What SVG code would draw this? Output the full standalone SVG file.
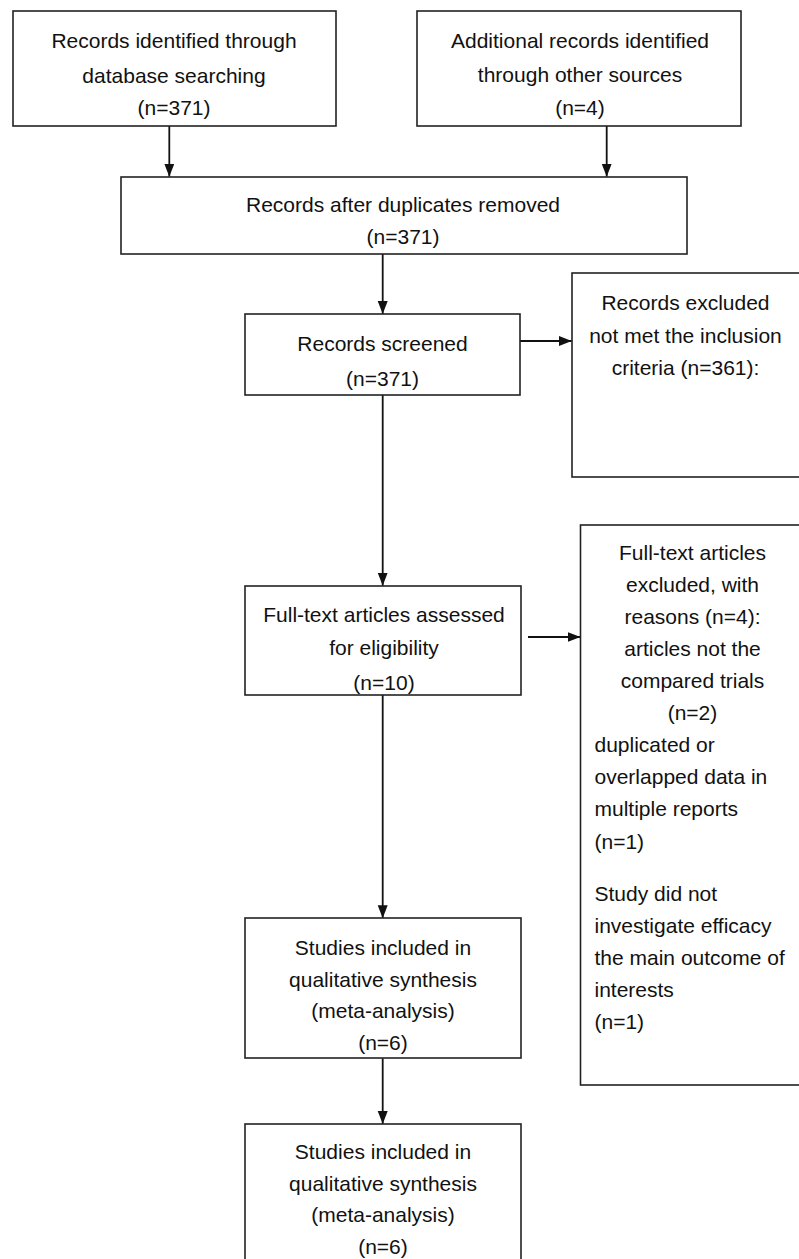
<svg xmlns="http://www.w3.org/2000/svg" width="799" height="1259" viewBox="0 0 799 1259">
<style>
  .box { fill: #ffffff; stroke: #222222; stroke-width: 1.6; }
  .t { font-family: "Liberation Sans", Arial, sans-serif; font-size: 21px; fill: #111111; }
  .c { text-anchor: middle; }
  .l { text-anchor: start; }
  .edge { stroke: #111111; stroke-width: 1.8; fill: none; }
</style>
<defs>
  <marker id="arrow" markerUnits="userSpaceOnUse" markerWidth="14" markerHeight="11" refX="13" refY="5" orient="auto">
    <path d="M0,0 L13,5 L0,10 z" fill="#111111"/>
  </marker>
</defs>
<rect x="0" y="0" width="799" height="1259" fill="#ffffff"/>

<g id="connectors">
  <line class="edge" x1="169.3" y1="126" x2="169.3" y2="176.7" marker-end="url(#arrow)"/>
  <line class="edge" x1="606.7" y1="126" x2="606.7" y2="176.7" marker-end="url(#arrow)"/>
  <line class="edge" x1="382.7" y1="254" x2="382.7" y2="314" marker-end="url(#arrow)"/>
  <line class="edge" x1="520" y1="341" x2="571.7" y2="341" marker-end="url(#arrow)"/>
  <line class="edge" x1="382.7" y1="395" x2="382.7" y2="585.7" marker-end="url(#arrow)"/>
  <line class="edge" x1="528" y1="637" x2="580.5" y2="637" marker-end="url(#arrow)"/>
  <line class="edge" x1="382.7" y1="694.7" x2="382.7" y2="918.3" marker-end="url(#arrow)"/>
  <line class="edge" x1="382.7" y1="1058.3" x2="382.7" y2="1124" marker-end="url(#arrow)"/>
</g>

<g id="identified-database">
  <rect class="box" x="13" y="11" width="323" height="115"/>
  <text class="t c" x="174" y="48">Records identified through</text>
  <text class="t c" x="174" y="82.7">database searching</text>
  <text class="t c" x="174" y="115">(n=371)</text>
</g>

<g id="identified-other">
  <rect class="box" x="417" y="11" width="324" height="115"/>
  <text class="t c" x="580" y="48">Additional records identified</text>
  <text class="t c" x="580" y="82">through other sources</text>
  <text class="t c" x="580" y="115">(n=4)</text>
</g>

<g id="after-duplicates">
  <rect class="box" x="121" y="177" width="566" height="77"/>
  <text class="t c" x="403" y="212">Records after duplicates removed</text>
  <text class="t c" x="403" y="244">(n=371)</text>
</g>

<g id="screened">
  <rect class="box" x="245" y="314" width="275" height="81"/>
  <text class="t c" x="382.5" y="351">Records screened</text>
  <text class="t c" x="382.5" y="386">(n=371)</text>
</g>

<g id="excluded">
  <rect class="box" x="572" y="273" width="240" height="204"/>
  <text class="t c" x="685.5" y="310">Records excluded</text>
  <text class="t c" x="685.5" y="343">not met the inclusion</text>
  <text class="t c" x="685.5" y="375">criteria (n=361):</text>
</g>

<g id="fulltext-assessed">
  <rect class="box" x="245" y="586" width="276" height="109"/>
  <text class="t c" x="384" y="622">Full-text articles assessed</text>
  <text class="t c" x="384" y="655">for eligibility</text>
  <text class="t c" x="384" y="690">(n=10)</text>
</g>

<g id="fulltext-excluded">
  <rect class="box" x="580.5" y="525" width="240" height="560"/>
  <text class="t c" x="692.5" y="560">Full-text articles</text>
  <text class="t c" x="692.5" y="592">excluded, with</text>
  <text class="t c" x="692.5" y="624">reasons (n=4):</text>
  <text class="t c" x="692.5" y="656">articles not the</text>
  <text class="t c" x="692.5" y="688">compared trials</text>
  <text class="t c" x="692.5" y="720">(n=2)</text>
  <text class="t l" x="594.5" y="752">duplicated or</text>
  <text class="t l" x="594.5" y="784">overlapped data in</text>
  <text class="t l" x="594.5" y="816">multiple reports</text>
  <text class="t l" x="594.5" y="849">(n=1)</text>
  <text class="t l" x="594.5" y="901">Study did not</text>
  <text class="t l" x="594.5" y="933">investigate efficacy</text>
  <text class="t l" x="594.5" y="965">the main outcome of</text>
  <text class="t l" x="594.5" y="997">interests</text>
  <text class="t l" x="594.5" y="1029">(n=1)</text>
</g>

<g id="included-1">
  <rect class="box" x="245" y="918" width="276" height="140"/>
  <text class="t c" x="383" y="955">Studies included in</text>
  <text class="t c" x="383" y="987">qualitative synthesis</text>
  <text class="t c" x="383" y="1018">(meta-analysis)</text>
  <text class="t c" x="383" y="1050">(n=6)</text>
</g>

<g id="included-2">
  <rect class="box" x="245" y="1124" width="276" height="160"/>
  <text class="t c" x="383" y="1159">Studies included in</text>
  <text class="t c" x="383" y="1191">qualitative synthesis</text>
  <text class="t c" x="383" y="1222">(meta-analysis)</text>
  <text class="t c" x="383" y="1254">(n=6)</text>
</g>
</svg>
